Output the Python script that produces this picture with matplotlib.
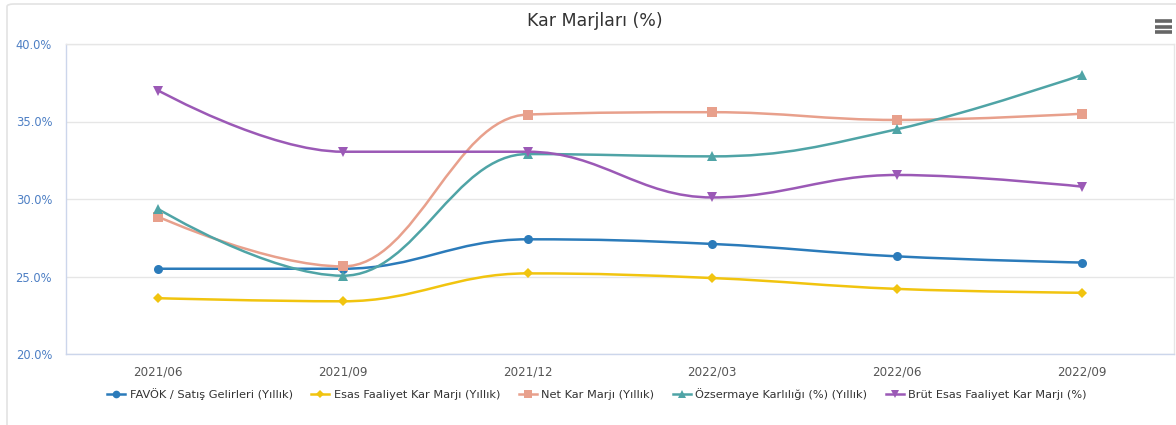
import numpy as np
import matplotlib
matplotlib.use("Agg")
import matplotlib.pyplot as plt
from matplotlib.path import Path
from matplotlib.patches import PathPatch, FancyBboxPatch
from matplotlib.lines import Line2D
from matplotlib.ticker import FuncFormatter

plt.rcParams['font.family'] = ['DejaVu Sans']

categories = ["2021/06", "2021/09", "2021/12", "2022/03", "2022/06", "2022/09"]
favok = [25.5, 25.5, 27.4, 27.1, 26.3, 25.9]
esas = [23.6, 23.4, 25.2, 24.9, 24.2, 23.95]
net_kar = [28.85, 25.65, 35.45, 35.6, 35.1, 35.5]
ozsermaye = [29.35, 25.05, 32.9, 32.75, 34.5, 38.0]
brut = [37.0, 33.05, 33.05, 30.1, 31.55, 30.8]

series_names = ["FAVÖK / Satış Gelirleri (Yıllık)", "Esas Faaliyet Kar Marjı (Yıllık)",
                "Net Kar Marjı (Yıllık)", "Özsermaye Karlılığı (%) (Yıllık)",
                "Brüt Esas Faaliyet Kar Marjı (%)"]
series_values = [favok, esas, net_kar, ozsermaye, brut]
colors = ["#2b7bba", "#f1c40f", "#e8a08c", "#4fa4a6", "#9b59b6"]
markers = ["o", "D", "s", "^", "v"]
msizes = [6.5, 5, 6.5, 6.5, 6.5]
y_ticks = [20, 25, 30, 35, 40]


def spline_path(xs, ys, smoothing=1.5):
    """Highcharts-style spline path from data points."""
    n = len(xs)
    denom = smoothing + 1
    lc = [None] * n
    rc = [None] * n
    for i in range(1, n - 1):
        px, py = xs[i], ys[i]
        lx, ly = xs[i - 1], ys[i - 1]
        nx, ny = xs[i + 1], ys[i + 1]
        lcx = (smoothing * px + lx) / denom
        lcy = (smoothing * py + ly) / denom
        rcx = (smoothing * px + nx) / denom
        rcy = (smoothing * py + ny) / denom
        if rcx != lcx:
            corr = ((rcy - lcy) * (rcx - px)) / (rcx - lcx) + py - rcy
            lcy += corr
            rcy += corr
        if lcy > ly and lcy > py:
            lcy = max(ly, py)
            rcy = 2 * py - lcy
        elif lcy < ly and lcy < py:
            lcy = min(ly, py)
            rcy = 2 * py - lcy
        if rcy > ny and rcy > py:
            rcy = max(ny, py)
            lcy = 2 * py - rcy
        elif rcy < ny and rcy < py:
            rcy = min(ny, py)
            lcy = 2 * py - rcy
        lc[i] = (lcx, lcy)
        rc[i] = (rcx, rcy)
    verts = [(xs[0], ys[0])]
    codes = [Path.MOVETO]
    for i in range(1, n):
        c1 = rc[i - 1] if rc[i - 1] is not None else (xs[i - 1], ys[i - 1])
        c2 = lc[i] if lc[i] is not None else (xs[i], ys[i])
        verts += [c1, c2, (xs[i], ys[i])]
        codes += [Path.CURVE4] * 3
    return Path(verts, codes)


W, H = 1176, 425
fig = plt.figure(figsize=(W / 100, H / 100), dpi=100)
fig.patch.set_facecolor("white")

# outer frame
frame = FancyBboxPatch((7 / W, -0.05), (W + 20) / W, 1.05 - 4 / H,
                       boxstyle="round,pad=0,rounding_size=0.006",
                       transform=fig.transFigure, facecolor="white",
                       edgecolor="#e3e3e3", linewidth=1.2, zorder=-5)
fig.patches.append(frame)

left, right, top, bottom = 66, 1174, 44, 354
ax = fig.add_axes([left / W, 1 - bottom / H, (right - left) / W, (bottom - top) / H])
ax.set_zorder(2)
ax.set_facecolor("white")

x = np.arange(len(categories))
for vals, name, c, m, ms in zip(series_values, series_names, colors, markers, msizes):
    p = spline_path(list(x.astype(float)), list(vals))
    ax.add_patch(PathPatch(p, facecolor="none", edgecolor=c, linewidth=1.8, zorder=3,
                           capstyle="round", joinstyle="round"))
    ax.plot(x, vals, linestyle="none", marker=m, color=c, markersize=ms,
            markeredgewidth=0, zorder=4)

ax.set_xlim(-0.5, len(categories) - 0.5)
ax.set_ylim(20, 40)
ax.set_yticks(y_ticks)
ax.yaxis.set_major_formatter(FuncFormatter(lambda v, _: f"{v:.1f}%"))
ax.set_xticks(x)
ax.set_xticklabels(categories)
ax.grid(axis="y", color="#e6e6e6", linewidth=1)
ax.set_axisbelow(True)
ax.tick_params(axis="y", length=0, pad=10, labelsize=8.3, labelcolor="#4d7fc4")
ax.tick_params(axis="x", length=0, pad=8, labelsize=8.6, labelcolor="#555555")
for s in ["left", "bottom"]:
    ax.spines[s].set_color("#ccd6eb")
    ax.spines[s].set_linewidth(1)
for s in ["top", "right"]:
    ax.spines[s].set_color("#e6e6e6")
    ax.spines[s].set_linewidth(1)

fig.text(595 / W, 1 - 21 / H, "Kar Marjları (%)", ha="center", va="center",
         fontsize=12.5, color="#333333")

# menu icon
for yy in (21, 26.5, 32):
    fig.add_artist(Line2D([1155 / W, 1172 / W], [1 - yy / H, 1 - yy / H],
                          color="#666666", linewidth=2.6, solid_capstyle="butt",
                          transform=fig.transFigure))

handles = [Line2D([0], [0], color=c, marker=m, markersize=ms * 0.85, markeredgewidth=0, linewidth=1.8)
           for c, m, ms in zip(colors, markers, msizes)]
leg = fig.legend(handles, series_names, loc="center", bbox_to_anchor=(597 / W, 1 - 394 / H),
                 ncol=5, frameon=False, fontsize=8.2, handlelength=1.6, handletextpad=0.4,
                 columnspacing=1.6)
for t in leg.get_texts():
    t.set_color("#333333")

fig.savefig("out.png", dpi=100, facecolor="white")
